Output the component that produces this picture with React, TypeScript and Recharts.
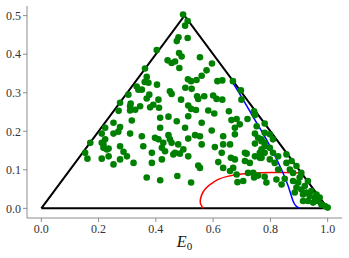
import { ComposedChart, Scatter, Line, XAxis, YAxis, Label } from 'recharts';

const points: [number, number][] = [
  [0.495, 0.503], [0.511, 0.486], [0.502, 0.474], [0.473, 0.434], [0.479, 0.444], [0.511, 0.442],
  [0.403, 0.411], [0.481, 0.403], [0.49, 0.394], [0.441, 0.384], [0.455, 0.377], [0.467, 0.381],
  [0.554, 0.392], [0.596, 0.376], [0.482, 0.364], [0.362, 0.363], [0.577, 0.358], [0.56, 0.344],
  [0.368, 0.341], [0.512, 0.335], [0.523, 0.33], [0.542, 0.333], [0.615, 0.33], [0.632, 0.332],
  [0.669, 0.33], [0.361, 0.328], [0.404, 0.321], [0.374, 0.326], [0.339, 0.308], [0.351, 0.308],
  [0.333, 0.316], [0.503, 0.313], [0.525, 0.31], [0.449, 0.304], [0.455, 0.297], [0.377, 0.295],
  [0.304, 0.295], [0.368, 0.285], [0.409, 0.282], [0.544, 0.291], [0.548, 0.284], [0.569, 0.291],
  [0.6, 0.293], [0.612, 0.284], [0.632, 0.282], [0.697, 0.306], [0.699, 0.282], [0.488, 0.282],
  [0.275, 0.274], [0.312, 0.272], [0.31, 0.265], [0.345, 0.265], [0.38, 0.262], [0.391, 0.269],
  [0.27, 0.253], [0.31, 0.254], [0.328, 0.256], [0.513, 0.267], [0.523, 0.258], [0.54, 0.255],
  [0.583, 0.254], [0.604, 0.246], [0.655, 0.252], [0.743, 0.252], [0.411, 0.261], [0.415, 0.235],
  [0.444, 0.238], [0.513, 0.239], [0.316, 0.228], [0.252, 0.222], [0.223, 0.209], [0.275, 0.211],
  [0.269, 0.199], [0.252, 0.194], [0.211, 0.194], [0.31, 0.194], [0.351, 0.187], [0.223, 0.179],
  [0.171, 0.17], [0.217, 0.166], [0.235, 0.155], [0.275, 0.161], [0.356, 0.161], [0.386, 0.144],
  [0.287, 0.147], [0.153, 0.144], [0.409, 0.179], [0.473, 0.226], [0.56, 0.222], [0.682, 0.232],
  [0.664, 0.229], [0.72, 0.232], [0.746, 0.242], [0.693, 0.218], [0.78, 0.22], [0.502, 0.209],
  [0.595, 0.202], [0.676, 0.209], [0.746, 0.194], [0.415, 0.209], [0.444, 0.19], [0.449, 0.179],
  [0.455, 0.17], [0.537, 0.19], [0.554, 0.187], [0.513, 0.181], [0.635, 0.187], [0.397, 0.183],
  [0.478, 0.166], [0.676, 0.192], [0.635, 0.166], [0.606, 0.159], [0.746, 0.168], [0.769, 0.174],
  [0.421, 0.157], [0.432, 0.148], [0.467, 0.144], [0.63, 0.144], [0.711, 0.144], [0.659, 0.166],
  [0.161, 0.129], [0.211, 0.129], [0.211, 0.17], [0.217, 0.157], [0.229, 0.153], [0.252, 0.114],
  [0.235, 0.135], [0.275, 0.127], [0.299, 0.135], [0.322, 0.118], [0.386, 0.118], [0.421, 0.127],
  [0.368, 0.08], [0.415, 0.073], [0.426, 0.17], [0.461, 0.14], [0.56, 0.166], [0.78, 0.161],
  [0.484, 0.142], [0.496, 0.153], [0.513, 0.135], [0.548, 0.111], [0.554, 0.105], [0.618, 0.12],
  [0.662, 0.131], [0.676, 0.127], [0.717, 0.142], [0.746, 0.135], [0.763, 0.144], [0.769, 0.131],
  [0.711, 0.123], [0.728, 0.118], [0.635, 0.105], [0.67, 0.105], [0.659, 0.097], [0.682, 0.088],
  [0.722, 0.092], [0.74, 0.092], [0.757, 0.085], [0.475, 0.084], [0.523, 0.067], [0.685, 0.068],
  [0.705, 0.071], [0.743, 0.08], [0.78, 0.082], [0.752, 0.213], [0.769, 0.179], [0.78, 0.196],
  [0.798, 0.192], [0.809, 0.179], [0.78, 0.17], [0.798, 0.157], [0.769, 0.153], [0.78, 0.144],
  [0.809, 0.144], [0.763, 0.131], [0.798, 0.127], [0.815, 0.118], [0.827, 0.135], [0.856, 0.118],
  [0.874, 0.123], [0.891, 0.11], [0.868, 0.101], [0.827, 0.101], [0.821, 0.075], [0.839, 0.062],
  [0.786, 0.067], [0.85, 0.077], [0.879, 0.071], [0.897, 0.067], [0.891, 0.054], [0.908, 0.049],
  [0.92, 0.058], [0.931, 0.071], [0.902, 0.08], [0.885, 0.041], [0.914, 0.036], [0.926, 0.041],
  [0.943, 0.045], [0.937, 0.032], [0.955, 0.028], [0.949, 0.015], [0.966, 0.019], [0.978, 0.01],
  [0.99, 0.006], [1.0, 0.002], [0.972, 0.028], [0.931, 0.019], [0.914, 0.019], [0.961, 0.036],
  [0.908, 0.092], [0.879, 0.092], [0.856, 0.14], [0.757, 0.183],
];

const triangle: [number, number][] = [[0, 0], [0.5, 0.5], [1, 0], [0, 0]];

const redCurve: [number, number][] = [
  [0.565, 0.0], [0.557, 0.01], [0.555, 0.02], [0.56, 0.035], [0.571, 0.049], [0.59, 0.062],
  [0.618, 0.075], [0.65, 0.083], [0.7, 0.089], [0.75, 0.092], [0.8, 0.093], [0.85, 0.093], [0.906, 0.092],
];

const blueCurve: [number, number][] = [
  [0.663, 0.333], [0.7, 0.288], [0.74, 0.237], [0.786, 0.179], [0.833, 0.11], [0.862, 0.058],
  [0.879, 0.019], [0.89, 0.006], [0.902, 0.0],
];

const xTicks = [0, 0.2, 0.4, 0.6, 0.8, 1.0];
const yTicks = [0, 0.1, 0.2, 0.3, 0.4, 0.5];

const toRows = (arr: [number, number][]) => arr.map(([x, y]) => ({ x, y }));

const serif = '"Liberation Serif", "DejaVu Serif", serif';
const axisColor = '#8c8c8c';

const Tick = (props: any) => {
  const { x, y, payload, textAnchor, verticalAnchor } = props;
  return (
    <text
      x={x}
      y={y}
      textAnchor={textAnchor}
      dy={verticalAnchor === 'start' ? '0.71em' : '0.355em'}
      fill="#333"
      fontSize={12}
      fontFamily={serif}
    >
      {Number(payload.value).toFixed(1)}
    </text>
  );
};

const Dot = (props: any) => <circle cx={props.cx} cy={props.cy} r={3.3} fill="#008000" />;

const XLabel = (props: any) => {
  const vb = props.viewBox;
  const cx = vb.x + vb.width / 2;
  return (
    <text x={cx} y={247} textAnchor="middle" fontFamily={serif} fontSize={16} fill="#111">
      <tspan fontStyle="italic">E</tspan>
      <tspan fontSize={11} dy={3}>0</tspan>
    </text>
  );
};

export default function App() {
  return (
    <div style={{ position: 'absolute', left: 0, top: 0, fontFamily: serif }}>
      <ComposedChart width={349} height={258} margin={{ top: 6, right: 7, bottom: 9, left: 0 }}>
        <XAxis
          type="number"
          dataKey="x"
          domain={[-0.05, 1.05]}
          ticks={xTicks}
          allowDataOverflow
          height={31}
          tickSize={4}
          tickMargin={2}
          stroke={axisColor}
          tick={<Tick />}
        >
          <Label content={<XLabel />} />
        </XAxis>
        <YAxis
          type="number"
          dataKey="y"
          domain={[-0.025, 0.525]}
          ticks={yTicks}
          allowDataOverflow
          width={27}
          tickSize={4}
          tickMargin={2}
          stroke={axisColor}
          tick={<Tick />}
        />
        <Line data={toRows(triangle)} dataKey="y" type="linear" stroke="#000" strokeWidth={2} dot={false} activeDot={false} isAnimationActive={false} />
        <Scatter data={toRows(points)} dataKey="y" shape={Dot} isAnimationActive={false} />
        <Line data={toRows(redCurve)} dataKey="y" type="natural" stroke="#ff0000" strokeWidth={1.5} dot={false} activeDot={false} isAnimationActive={false} />
        <Line data={toRows(blueCurve)} dataKey="y" type="natural" stroke="#0000ff" strokeWidth={1.5} dot={false} activeDot={false} isAnimationActive={false} />
      </ComposedChart>
    </div>
  );
}
